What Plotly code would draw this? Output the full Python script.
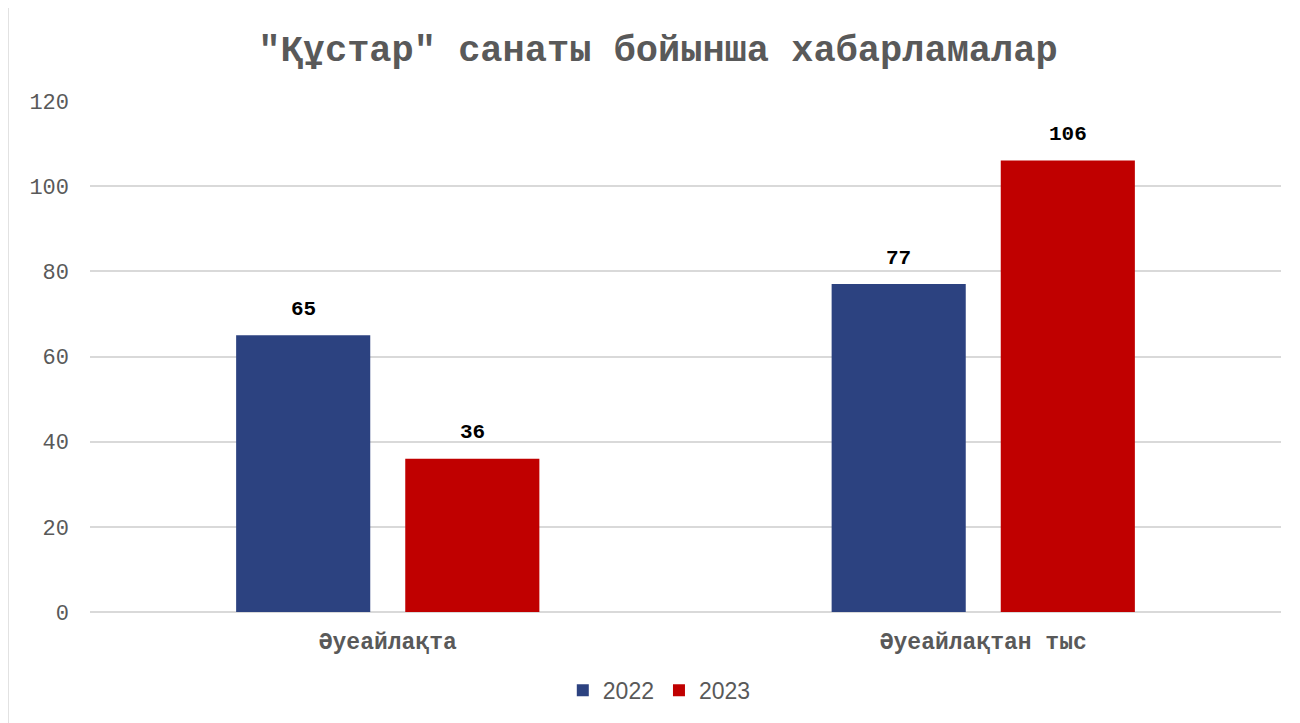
import plotly.graph_objects as go

# Data
categories = ["Әуеайлақта", "Әуеайлақтан тыс"]
values_2022 = [65, 77]
values_2023 = [36, 106]
series_names = ["2022", "2023"]
colors = ["#2C4280", "#C00000"]
title_text = '"Құстар" санаты бойынша хабарламалар'

mono = "Liberation Mono, Courier New, monospace"

fig = go.Figure()
for name, vals, col in zip(series_names, [values_2022, values_2023], colors):
    fig.add_trace(go.Bar(x=categories, y=vals, name=name, marker=dict(color=col, line=dict(width=0))))

# data labels above the bars (offset to each bar of the group)
for vals, shift in zip([values_2022, values_2023], [-84.5, 84.5]):
    for cat, v in zip(categories, vals):
        fig.add_annotation(x=cat, y=v, text=str(v), showarrow=False, xshift=shift, yshift=26,
                           yanchor="middle",
                           font=dict(family=mono, size=21, color="#000000", weight="bold"))

fig.update_layout(
    width=1300, height=723,
    paper_bgcolor="white", plot_bgcolor="white",
    margin=dict(l=82, r=27, t=93, b=119),
    barmode="group", bargap=0.432, bargroupgap=0.207,
    title=dict(text=title_text, x=0.5, xanchor="center", y=0.945, yanchor="middle",
               font=dict(family=mono, size=37, color="#595959", weight="bold")),
    legend=dict(orientation="h", x=0.478, xanchor="center", y=-0.153, yanchor="middle",
                font=dict(family="Liberation Sans, Arial, sans-serif", size=23, color="#595959"),
                itemwidth=30, traceorder="normal"),
    showlegend=True,
)
fig.update_yaxes(range=[0, 120], dtick=20, showgrid=True, gridcolor="#D9D9D9", gridwidth=1.5,
                 zeroline=True, zerolinecolor="#D9D9D9", zerolinewidth=1.5,
                 ticks="", ticklabelstandoff=20,
                 tickfont=dict(family=mono, size=22, color="#595959"))
fig.update_xaxes(showline=False, ticks="", ticklabelstandoff=13,
                 tickfont=dict(family=mono, size=23, color="#595959", weight="bold"))

# light chart border on the left
fig.add_shape(type="line", xref="paper", yref="paper", x0=-82/1191, x1=-82/1191, y0=-0.25, y1=1.25,
              line=dict(color="#D9D9D9", width=1.5))

fig.write_html("out.html")
